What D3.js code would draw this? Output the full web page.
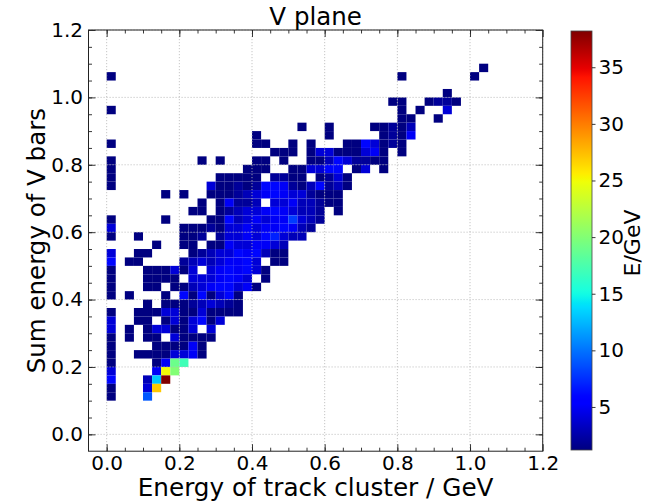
<!DOCTYPE html>
<html><head><meta charset="utf-8">
<script src="https://cdn.jsdelivr.net/npm/d3@7"></script>
<style>body{margin:0;background:#fff}svg{display:block}text{font-family:"DejaVu Sans",sans-serif;fill:#000}</style>
</head><body><svg id="c" width="646" height="504"></svg>
<script>
const title = "V plane";
const xLabel = "Energy of track cluster / GeV";
const yLabel = "Sum energy of V bars";
const cbLabel = "E/GeV";
const xTicks = [0, 0.2, 0.4, 0.6, 0.8, 1.0, 1.2];
const yTicks = [0, 0.2, 0.4, 0.6, 0.8, 1.0, 1.2];
const cbTicks = [5, 10, 15, 20, 25, 30, 35];
const binWidth = 0.025;
const vRange = [1.2, 38.2];
// histogram rows: [row j, first column i, per-cell level (base-36 value, '.' = empty)]
const rows = [
  [43,41,"1"],
  [42,0,"1"],[42,32,"1"],[42,40,"1"],
  [40,37,"1"],
  [39,31,"11"],[39,35,"1221"],
  [38,0,"1"],[38,32,"1.1..4"],
  [37,32,"11..1"],
  [36,21,"1..1....11213"],
  [35,16,"1"],[35,24,"1"],[35,30,"1215"],
  [34,0,"1"],[34,16,"11..1.1...1164121"],
  [33,18,"111.144111451.1"],
  [32,0,"1"],[32,10,"1.1...11.1..113642211"],
  [31,0,"1"],[31,15,"111..114466.14.1"],
  [30,0,"1"],[30,12,"11111.2211.1241"],
  [29,0,"1"],[29,11,"4112126652136231"],
  [28,6,"1.1..111234565442111"],
  [27,10,"1.15223.44533211"],
  [26,9,"11.123445654332.1"],
  [25,0,"1"],[25,6,"1....1163454558432"],
  [24,0,"4"],[24,8,"111214454556532"],
  [23,0,"1"],[23,3,"1....112.2445467433"],
  [22,5,"1..11.115445543"],
  [21,0,"4"],[21,3,"11....12344656311"],
  [20,0,"6"],[20,2,"11....234345564.11"],
  [19,0,"1"],[19,4,"111414.4565641"],
  [18,0,"1"],[18,4,"1111.4445654.1"],
  [17,0,"1"],[17,4,"11.1134566451"],
  [16,0,"1"],[16,2,"1...1.6161461"],
  [15,4,"1.111234321"],
  [14,0,"1"],[14,3,"111441141111"],
  [13,0,"4"],[13,3,"11.1414614"],
  [12,0,"4"],[12,2,"1.144114.4"],
  [11,0,"1"],[11,2,"1.11.41111"],
  [10,0,"1"],[10,5,"111151"],
  [9,0,"1"],[9,3,"11114451"],
  [8,0,"1"],[8,5,"15jh"],
  [7,0,"4"],[7,5,"5pk"],
  [6,0,"6"],[6,4,"3d"],
  [5,0,"1"],[5,4,"4r"],
  [4,0,"1"],[4,4,"9"]
];
// cells too hot for one base-36 character: [column i, row j, value]
const peaks = [[6,6,38.2]];

const cells = [];
rows.forEach(([j,i0,s]) => { for (let k=0;k<s.length;k++){ const c=s[k]; if(c!=='.') cells.push({i:i0+k,j:j,v:parseInt(c,36)}); } });
peaks.forEach(([i,j,v]) => cells.push({i,j,v}));

const L=88.5, R=542.7, T=30, B=451.2;
const svg = d3.select("#c");
const x = d3.scaleLinear().domain([-0.05,1.2]).range([L,R]);
const y = d3.scaleLinear().domain([-0.05,1.2]).range([B,T]);

const jetR = d3.scaleLinear().domain([0,0.35,0.66,0.89,1]).range([0,0,1,1,0.5]).clamp(true);
const jetG = d3.scaleLinear().domain([0,0.125,0.375,0.64,0.91,1]).range([0,0,1,1,0,0]).clamp(true);
const jetB = d3.scaleLinear().domain([0,0.11,0.34,0.65,1]).range([0.5,1,1,0,0]).clamp(true);
const norm = d3.scaleLinear().domain(vRange).range([0,1]).clamp(true);
const jetT = t => d3.rgb(jetR(t)*255, jetG(t)*255, jetB(t)*255).formatHex();
const color = v => jetT(norm(v));

// cells
svg.append("g").selectAll("rect").data(cells).join("rect")
  .attr("x", d => x(d.i*binWidth))
  .attr("y", d => y((d.j+1)*binWidth))
  .attr("width", d => x((d.i+1)*binWidth) - x(d.i*binWidth))
  .attr("height", d => y(d.j*binWidth) - y((d.j+1)*binWidth))
  .attr("fill", d => color(d.v));

// grid
const grid = svg.append("g").attr("stroke","#b8b8b8").attr("stroke-width",0.8).attr("stroke-dasharray","1.2,1.8");
grid.selectAll(".gx").data(xTicks).join("line").attr("x1",d=>x(d)).attr("x2",d=>x(d)).attr("y1",T).attr("y2",B);
grid.selectAll(".gy").data(yTicks).join("line").attr("y1",d=>y(d)).attr("y2",d=>y(d)).attr("x1",L).attr("x2",R);

// axes
const minor = d3.range(0,25).map(k => -0.05 + k*0.05).filter(v => v > -0.049 && v < 1.199);
const fmt = d3.format(".1f");
function styleAxis(g){ g.select(".domain").remove(); g.selectAll("line").attr("stroke","#222").attr("stroke-width",0.9); g.selectAll("text").attr("font-size",20).attr("font-family","DejaVu Sans").attr("fill","#111"); }
svg.append("g").attr("transform",`translate(0,${B})`).call(d3.axisBottom(x).tickValues(xTicks).tickSize(-7).tickPadding(4.6).tickFormat(fmt)).call(styleAxis);
svg.append("g").attr("transform",`translate(0,${B})`).call(d3.axisBottom(x).tickValues(minor).tickSize(-3.5).tickFormat("")).call(styleAxis);
svg.append("g").attr("transform",`translate(0,${T})`).call(d3.axisTop(x).tickValues(xTicks).tickSize(-7).tickFormat("")).call(styleAxis);
svg.append("g").attr("transform",`translate(0,${T})`).call(d3.axisTop(x).tickValues(minor).tickSize(-3.5).tickFormat("")).call(styleAxis);
svg.append("g").attr("transform",`translate(${L},0)`).call(d3.axisLeft(y).tickValues(yTicks).tickSize(-7).tickPadding(5.5).tickFormat(fmt)).call(styleAxis);
svg.append("g").attr("transform",`translate(${L},0)`).call(d3.axisLeft(y).tickValues(minor).tickSize(-3.5).tickFormat("")).call(styleAxis);
svg.append("g").attr("transform",`translate(${R},0)`).call(d3.axisRight(y).tickValues(yTicks).tickSize(-7).tickFormat("")).call(styleAxis);
svg.append("g").attr("transform",`translate(${R},0)`).call(d3.axisRight(y).tickValues(minor).tickSize(-3.5).tickFormat("")).call(styleAxis);

svg.append("rect").attr("x",L).attr("y",T).attr("width",R-L).attr("height",B-T).attr("fill","none").attr("stroke","#222").attr("stroke-width",1);

// labels
svg.append("text").attr("x",(L+R)/2).attr("y",25).attr("text-anchor","middle").attr("font-size",24.5).text(title);
svg.append("text").attr("x",(L+R)/2).attr("y",496).attr("text-anchor","middle").attr("font-size",24.7).text(xLabel);
svg.append("text").attr("transform",`translate(45,${(T+B)/2}) rotate(-90)`).attr("text-anchor","middle").attr("font-size",24.5).text(yLabel);

// colorbar
const cbX=571, cbW=21, cbT=31, cbB=450;
const cy = d3.scaleLinear().domain(vRange).range([cbB,cbT]);
const defs = svg.append("defs");
const grad = defs.append("linearGradient").attr("id","jet").attr("x1",0).attr("y1",1).attr("x2",0).attr("y2",0);
d3.range(0,101).forEach(k => grad.append("stop").attr("offset",k/100).attr("stop-color",jetT(k/100)));
svg.append("rect").attr("x",cbX).attr("y",cbT).attr("width",cbW).attr("height",cbB-cbT).attr("fill","url(#jet)").attr("stroke","#444").attr("stroke-width",0.8);
svg.append("g").attr("transform",`translate(${cbX+cbW},0)`).call(d3.axisRight(cy).tickValues(cbTicks).tickSize(3.5).tickPadding(3)).call(styleAxis);
svg.append("text").attr("transform",`translate(639.5,243) rotate(-90)`).attr("text-anchor","middle").attr("font-size",22).text(cbLabel);
</script></body></html>
